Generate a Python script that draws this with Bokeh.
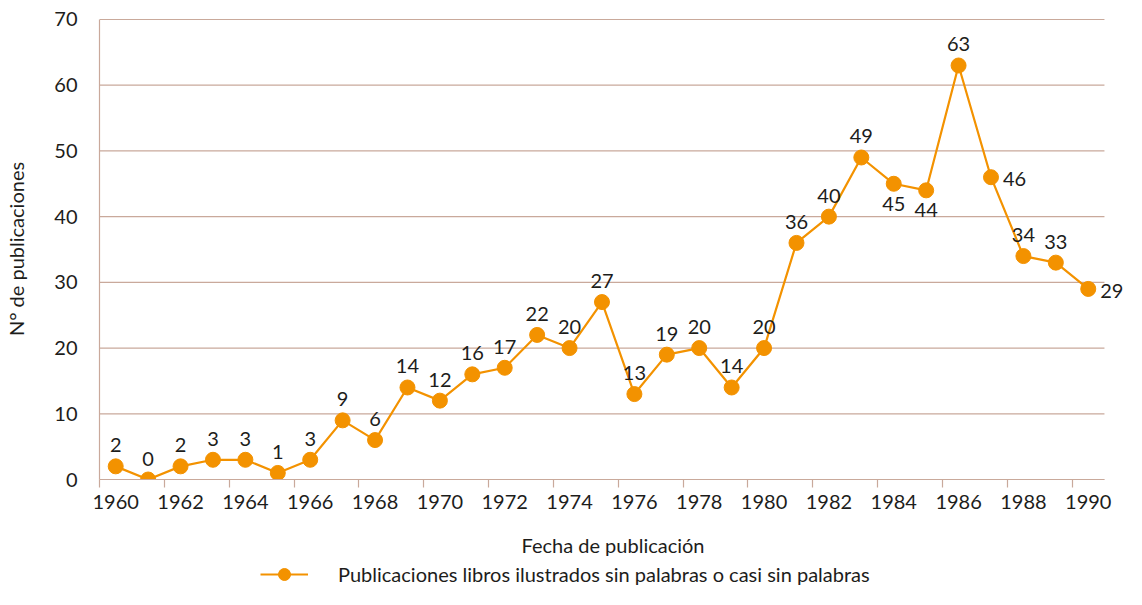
from bokeh.plotting import figure
from bokeh.layouts import column
from bokeh.models import (ColumnDataSource, LinearAxis, FixedTicker, Range1d,
                          LabelSet, Legend, LegendItem)
from bokeh.core.properties import value
from bokeh.embed import file_html
from bokeh.resources import INLINE

years = list(range(1960, 1991))
values = [2, 0, 2, 3, 3, 1, 3, 9, 6, 14, 12, 16, 17, 22, 20, 27, 13, 19, 20, 14,
          20, 36, 40, 49, 45, 44, 63, 46, 34, 33, 29]
# label placement: 'a' above, 'b' below, 'r' right
label_pos = ['a'] * 24 + ['b', 'b', 'a', 'r', 'a', 'a', 'r']
series_name = "Publicaciones libros ilustrados sin palabras o casi sin palabras"
x_title = "Fecha de publicación"
y_title = "N° de publicaciones"
y_ticks = [0, 10, 20, 30, 40, 50, 60, 70]
x_label_ticks = list(range(1960, 1991, 2))
x_mark_ticks = [y - 0.5 for y in x_label_ticks]

FONT = "Lato"
FS = "20px"
ORANGE = "#F39200"
GRID = "#C9A99B"
TXT = "#1d1d1b"

X0, X1 = years[0] - 0.5, years[-1] + 0.5

lx, ly = [], []
for v, pos in zip(values, label_pos):
    if pos == 'a':
        lx.append(0); ly.append(21)
    elif pos == 'b':
        lx.append(0); ly.append(-20)
    else:
        lx.append(12); ly.append(-2)

src = ColumnDataSource(dict(x=years, y=values, txt=[str(v) for v in values],
                            xo=lx, yo=ly,
                            align=['left' if p == 'r' else 'center' for p in label_pos]))

p = figure(width=1126, height=559, output_backend="svg", toolbar_location=None,
           x_range=Range1d(X0, X1 + 0.68), y_range=Range1d(0, 70.15),
           x_axis_location=None, y_axis_location=None,
           min_border_left=99, min_border_right=0, min_border_top=18,
           min_border_bottom=78)
p.outline_line_color = None
p.xgrid.grid_line_color = None
p.ygrid.grid_line_color = None

# horizontal grid lines limited to the category span
p.segment(x0=[X0] * len(y_ticks), x1=[X1] * len(y_ticks), y0=y_ticks, y1=y_ticks,
          line_color=GRID, line_width=1.2)

# y axis
yax = LinearAxis(ticker=FixedTicker(ticks=y_ticks), axis_label=y_title, bounds=(0, 70))
yax.axis_line_color = GRID
yax.axis_line_width = 1.2
yax.major_tick_line_color = None
yax.major_tick_out = 0
yax.major_tick_in = 0
yax.minor_tick_line_color = None
yax.major_label_text_font = FONT
yax.major_label_text_font_size = FS
yax.major_label_text_color = TXT
yax.major_label_standoff = 22
yax.axis_label_text_font = FONT
yax.axis_label_text_font_size = FS
yax.axis_label_text_font_style = "normal"
yax.axis_label_text_color = TXT
yax.axis_label_standoff = 23
p.add_layout(yax, "left")

# x axis: labels at even years, tick marks at category boundaries (minor ticks)
xax = LinearAxis(ticker=FixedTicker(ticks=x_label_ticks, minor_ticks=x_mark_ticks),
                 axis_label=x_title, bounds=(X0, X1))
xax.axis_line_color = GRID
xax.axis_line_width = 1.2
xax.major_tick_line_color = None
xax.major_tick_in = 0
xax.major_tick_out = 8
xax.minor_tick_line_color = GRID
xax.minor_tick_line_width = 1.2
xax.minor_tick_in = 0
xax.minor_tick_out = 8
xax.major_label_text_font = FONT
xax.major_label_text_font_size = FS
xax.major_label_text_color = TXT
xax.major_label_standoff = 7
xax.axis_label_text_font = FONT
xax.axis_label_text_font_size = FS
xax.axis_label_text_font_style = "normal"
xax.axis_label_text_color = TXT
xax.axis_label_standoff = 21
p.add_layout(xax, "below")

p.line('x', 'y', source=src, line_color=ORANGE, line_width=2.2)
p.scatter('x', 'y', source=src, size=15, fill_color=ORANGE, line_color=ORANGE)

labels = LabelSet(x='x', y='y', text='txt', source=src, x_offset='xo', y_offset='yo',
                  text_align='align', text_baseline='middle',
                  text_font=value(FONT), text_font_size=FS, text_color=TXT)
p.add_layout(labels)

# legend strip (its frame is aligned with the main frame by the column layout)
lg = figure(width=1126, height=30, output_backend="svg", toolbar_location=None,
            x_range=Range1d(0, 1), y_range=Range1d(0, 1),
            x_axis_location=None, y_axis_location=None,
            min_border=0)
lg.outline_line_color = None
lg.xgrid.grid_line_color = None
lg.ygrid.grid_line_color = None
r1 = lg.line('x', 'y', source=src, line_color=ORANGE, line_width=2.2)
r2 = lg.scatter('x', 'y', source=src, size=15, fill_color=ORANGE, line_color=ORANGE)
legend = Legend(items=[LegendItem(label=series_name, renderers=[r1, r2])],
                orientation="horizontal", location=(161, 0),
                label_text_font=FONT, label_text_font_size=FS,
                label_text_color=TXT, border_line_color=None,
                background_fill_alpha=0, glyph_width=48, glyph_height=30,
                label_standoff=30, padding=0, margin=0, label_height=30)
lg.add_layout(legend, "center")

layout = column(p, lg, spacing=0)
open("out.html", "w").write(file_html(layout, INLINE))
